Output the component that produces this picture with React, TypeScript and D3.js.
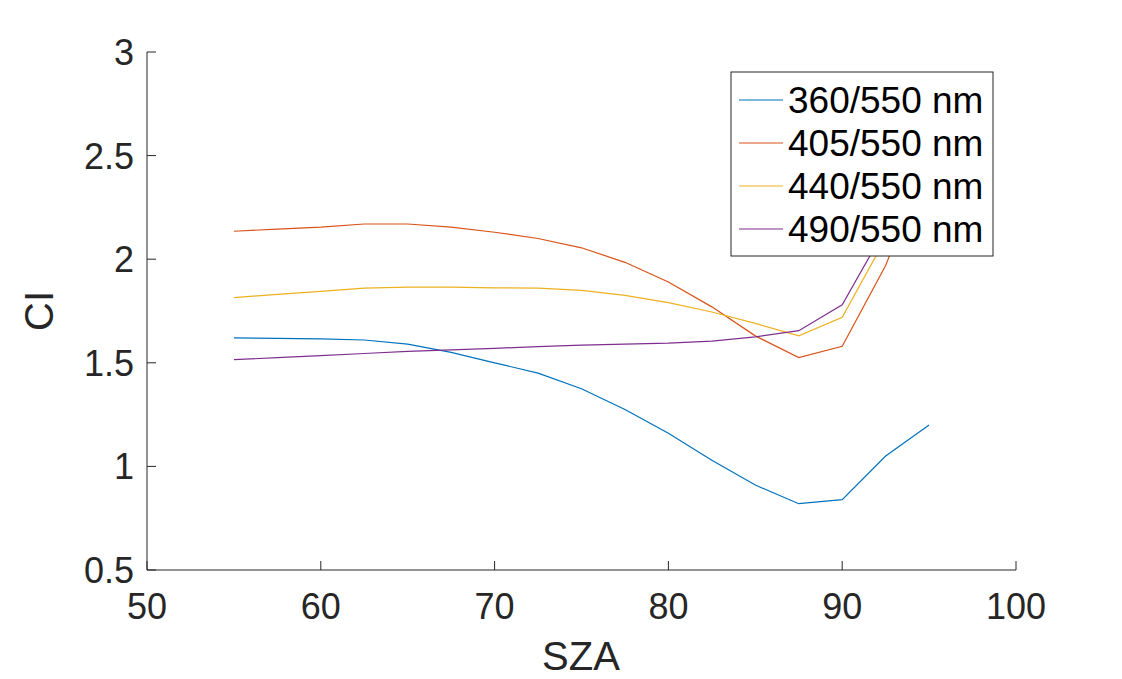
import React from 'react';
import * as d3 from 'd3';

const sza = [55, 57.5, 60, 62.5, 65, 67.5, 70, 72.5, 75, 77.5, 80, 82.5, 85, 87.5, 90, 92.5, 95];
const ci360 = [1.62, 1.618, 1.615, 1.61, 1.59, 1.55, 1.5, 1.45, 1.375, 1.275, 1.16, 1.03, 0.91, 0.82, 0.84, 1.05, 1.2];
const ci405 = [2.135, 2.145, 2.155, 2.17, 2.17, 2.155, 2.13, 2.1, 2.055, 1.985, 1.89, 1.77, 1.63, 1.525, 1.58, 1.97, 2.5];
const ci440 = [1.815, 1.83, 1.845, 1.86, 1.865, 1.865, 1.862, 1.86, 1.85, 1.825, 1.79, 1.745, 1.69, 1.63, 1.72, 2.1, 2.6];
const ci490 = [1.515, 1.525, 1.535, 1.545, 1.555, 1.562, 1.57, 1.578, 1.585, 1.59, 1.595, 1.605, 1.625, 1.655, 1.78, 2.15, 2.7];
const seriesNames = ['360/550 nm', '405/550 nm', '440/550 nm', '490/550 nm'];
const colors = ['#0072BD', '#D95319', '#EDB120', '#7E2F8E'];
const xTicks = [50, 60, 70, 80, 90, 100];
const yTicks = [0.5, 1, 1.5, 2, 2.5, 3];

const App: React.FC = () => {
  const W = 1122, H = 679;
  const x = d3.scaleLinear().domain([50, 100]).range([147, 1016]);
  const y = d3.scaleLinear().domain([0.5, 3]).range([570, 52]);
  const data = [ci360, ci405, ci440, ci490];
  const line = d3.line<number>().x((_, i) => x(sza[i])).y(d => y(d));
  const font = 'Helvetica, Arial, "Liberation Sans", sans-serif';
  const lx = 731, ly = 72, lw = 262, lh = 184;
  return (
    <svg width={W} height={H} style={{ display: 'block', margin: -8, fontFamily: font }}>
      <rect width={W} height={H} fill="#fff" />
      <defs>
        <clipPath id="plot"><rect x={147} y={52} width={869} height={518} /></clipPath>
      </defs>
      <g clipPath="url(#plot)">
        {data.map((d, i) => (
          <path key={i} d={line(d) || ''} fill="none" stroke={colors[i]} strokeWidth={1.2} />
        ))}
      </g>
      <line x1={147} x2={1016} y1={570} y2={570} stroke="#262626" />
      <line x1={147} x2={147} y1={52} y2={570} stroke="#262626" />
      {xTicks.map(t => (
        <g key={t}>
          <line x1={x(t)} x2={x(t)} y1={570} y2={561} stroke="#262626" />
          <text x={x(t)} y={619} textAnchor="middle" fontSize={36} fill="#262626">{t}</text>
        </g>
      ))}
      {yTicks.map(t => (
        <g key={t}>
          <line x1={147} x2={156} y1={y(t)} y2={y(t)} stroke="#262626" />
          <text x={134} y={y(t) + 13} textAnchor="end" fontSize={36} fill="#262626">{t}</text>
        </g>
      ))}
      <text x={581} y={670} textAnchor="middle" fontSize={40} fill="#262626">SZA</text>
      <text transform={`translate(53,311) rotate(-90)`} textAnchor="middle" fontSize={40} fill="#262626">CI</text>
      <rect x={lx} y={ly} width={lw} height={lh} fill="#fff" stroke="#262626" />
      {seriesNames.map((n, i) => (
        <g key={n}>
          <line x1={lx + 8} x2={lx + 52} y1={ly + 28 + i * 43} y2={ly + 28 + i * 43} stroke={colors[i]} strokeWidth={1.2} />
          <text x={lx + 57} y={ly + 41 + i * 43} fontSize={37} fill="#000">{n}</text>
        </g>
      ))}
    </svg>
  );
};

export default App;
